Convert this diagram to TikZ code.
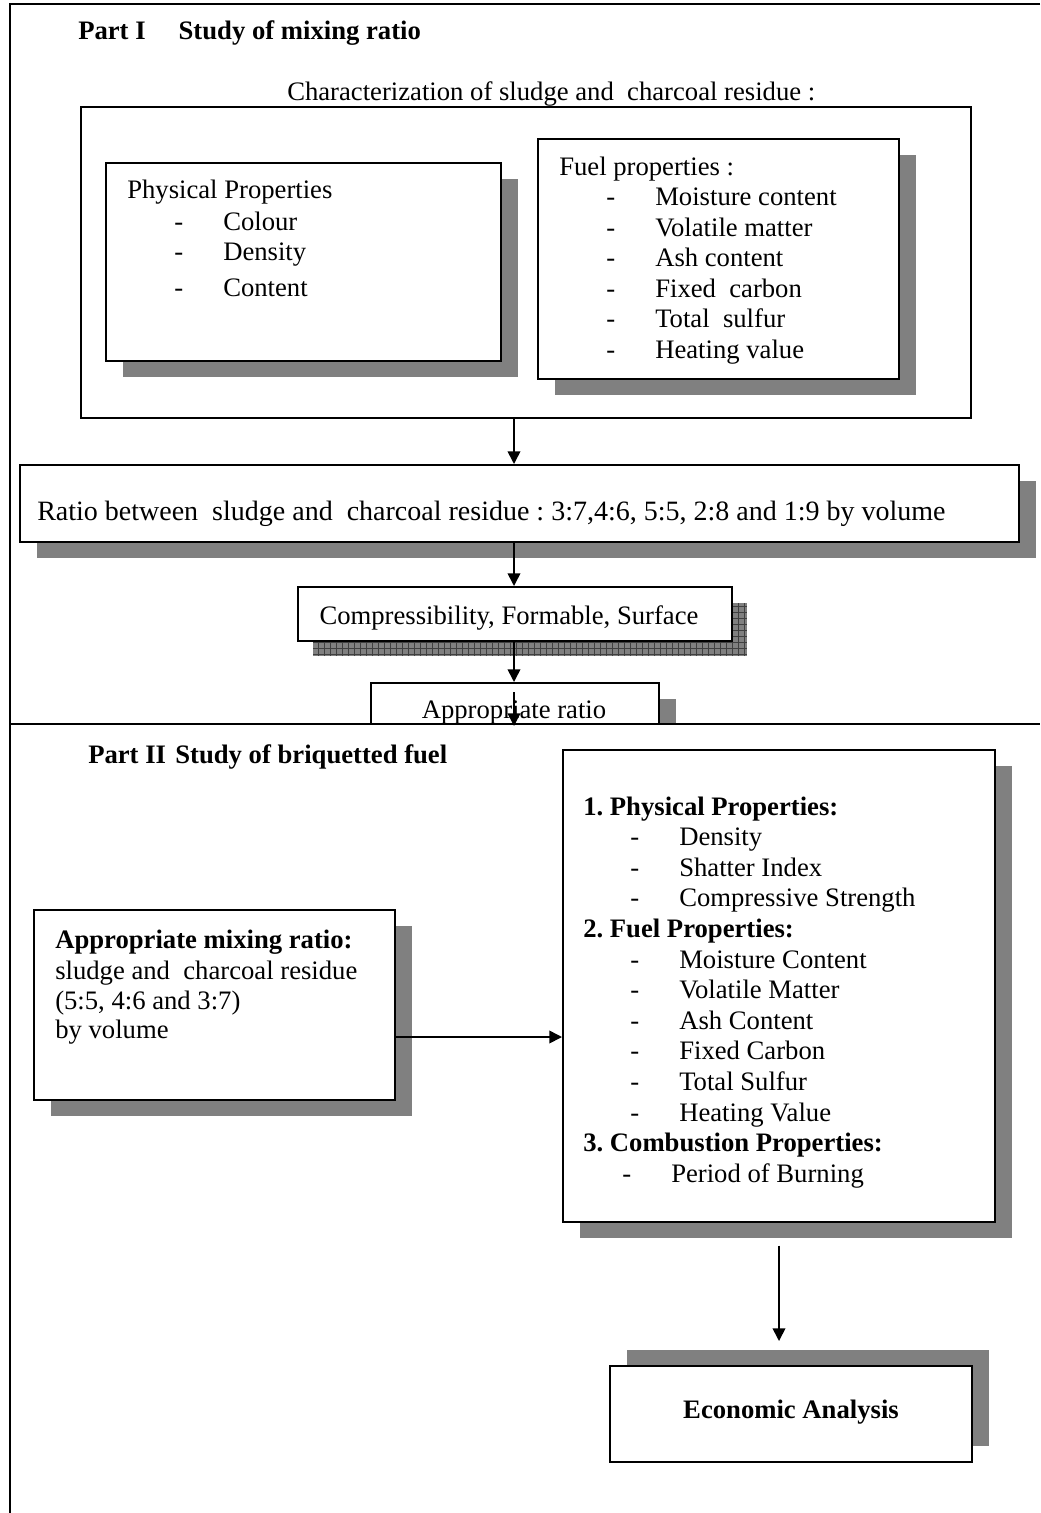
\documentclass[tikz,border=0pt]{standalone}
\usepackage{fontspec}
\setmainfont{Liberation Serif}
\usetikzlibrary{arrows.meta}
\usetikzlibrary{shadows}
\usetikzlibrary{fit}
\usetikzlibrary{positioning}
\frenchspacing
\tikzset{txt/.style = {font=\fontsize{20}{23}\selectfont, inner sep=0pt},
         hd/.style = {font=\fontsize{20}{23}\selectfont\bfseries, inner sep=0pt},
         box/.style = {draw, line width=1.5pt, fill=white, inner sep=0pt},
         shbox/.style = {box, drop shadow={shadow xshift=12.75pt, shadow yshift=-12pt,
                                           fill=black!50, opacity=1}},
         upshbox/.style = {box, drop shadow={shadow xshift=12.75pt, shadow yshift=12pt,
                                             fill=black!50, opacity=1}},
         flow/.style = {line width=1.2pt, -{Triangle[length=9.5pt, width=9.5pt]}}}
\newcommand{\dashitem}[1]{\hspace*{35.25pt}\makebox[36.75pt][l]{-}#1}
\newcommand{\burnitem}[1]{\hspace*{29.25pt}\makebox[36.75pt][l]{-}#1}

\begin{document}
\begin{tikzpicture}[x=0.75pt, y=-0.75pt]
      \useasboundingbox (0, 0) rectangle (1040, 1513);
      \coordinate (axis) at (514, 0);

      % Part I
      \draw [line width=1.5pt] (1040, 4) -- (10, 4) -- (10, 1513);
      \node [hd, anchor=base west] (part1) at (78, 40) {Part I\hspace{24.75pt}Study of mixing ratio};

      \node [box, fit={(81, 107) (971, 418)}] (char) {};
      \node [txt, anchor=base west] (charT) at (287, 100) {Characterization of sludge and\ \ charcoal residue :};

      \node [shbox, fit={(106, 163) (501, 361)}] (phys) {};
      \node [txt, anchor=base west] (physT) at (127, 198) {Physical Properties};
      \node [txt, anchor=base west] (phys1) at (127, 230) {\dashitem{Colour}};
      \node [txt, anchor=base west] (phys2) at (127, 260) {\dashitem{Density}};
      \node [txt, anchor=base west] (phys3) at (127, 296) {\dashitem{Content}};

      \node [shbox, fit={(538, 139) (899, 379)}] (fuel) {};
      \node [txt, anchor=base west] (fuelT) at (559, 175) {Fuel properties :};
      \foreach \t [count=\i] in {Moisture content, Volatile matter, Ash content,
                                 Fixed\ \ carbon, Total\ \ sulfur, Heating value} {
        \node [txt, anchor=base west] (fuel\i) at (559, 175 + 30.5 * \i) {\dashitem{\t}};
      }

      \node [shbox, fit={(20, 465) (1019, 542)}] (ratio) {};
      \node [txt, font=\fontsize{21}{23}\selectfont, anchor=base west] (ratioT) at (37, 520)
        {Ratio between\ \ sludge and\ \ charcoal residue : 3:7,4:6, 5:5, 2:8 and 1:9 by volume};

      \fill [black!50] (313, 603) rectangle (747, 656);
      \draw [black!75, line width=0.4pt, step=4.5pt] (313, 603) grid (747, 656);
      \node [box, fit={(298, 587) (732, 641)}] (comp) {};
      \node [txt, anchor=base] (compT) at (509, 624) {Compressibility, Formable, Surface};

      \begin{scope}
        \clip (0, 0) rectangle (1040, 724);
        \node [shbox, fit={(371, 683) (659, 780)}] (appr) {};
        \node [txt, anchor=base] (apprT) at (514, 718) {Appropriate ratio};
      \end{scope}
      \coordinate (split) at (514, 726);

      \draw [flow] (char.south -| axis) -- (ratio.north -| axis);
      \draw [flow] (ratio.south -| axis) -- (comp.north -| axis);
      \draw [flow] (comp.south -| axis) -- (appr.north -| axis);
      \draw [flow] ([yshift=-7.5pt]appr.north -| split) -- (split);

      % Part II
      \draw [line width=1.5pt] (10, 724) -- (1040, 724);
      \node [hd, anchor=base west] (part2) at (88, 763) {Part II\hspace{7pt}Study of briquetted fuel};

      \node [shbox, fit={(563, 750) (995, 1222)}] (props) {};
      \foreach \t [count=\i from 0] in {\textbf{1. Physical Properties:}, \dashitem{Density},
                                        \dashitem{Shatter Index}, \dashitem{Compressive Strength},
                                        \textbf{2. Fuel Properties:}, \dashitem{Moisture Content},
                                        \dashitem{Volatile Matter}, \dashitem{Ash Content},
                                        \dashitem{Fixed Carbon}, \dashitem{Total Sulfur},
                                        \dashitem{Heating Value}, \textbf{3. Combustion Properties:},
                                        \burnitem{Period of Burning}} {
        \node [txt, anchor=base west] (prop\i) at (583, 815 + 30.6 * \i) {\t};
      }

      \node [shbox, fit={(34, 910) (395, 1100)}] (mix) {};
      \node [hd, anchor=base west] (mixT) at (55, 948) {Appropriate mixing ratio:};
      \node [txt, anchor=base west] (mix1) at (55, 979) {sludge and\ \ charcoal residue};
      \node [txt, anchor=base west] (mix2) at (55, 1009) {(5:5, 4:6 and 3:7)};
      \node [txt, anchor=base west] (mix3) at (55, 1038) {by volume};

      \node [upshbox, fit={(610, 1366) (972, 1462)}] (econ) {};
      \node [hd, anchor=base] (econT) at (791, 1418) {Economic Analysis};

      \draw [flow] ([yshift=-24pt]mix.east) -- ([yshift=-24pt]mix.east -| props.west);
      \draw [flow] ([yshift=-17pt]props.south) -- ([yshift=18pt]props.south |- econ.north);
    \end{tikzpicture}
\end{document}
